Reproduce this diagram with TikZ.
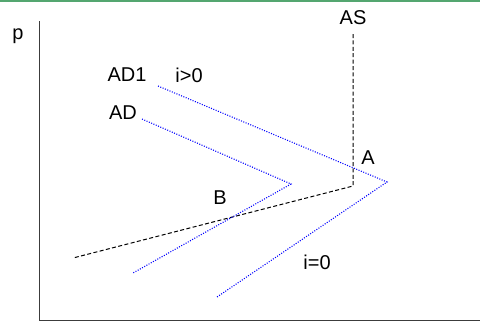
\documentclass[tikz,border=0pt]{standalone}
\usepackage{fontspec}
\setmainfont{Liberation Sans}
\usepackage{xcolor}
\usetikzlibrary{positioning,calc}

\definecolor{framegreen}{RGB}{84,166,112}
\definecolor{axisgray}{RGB}{60,60,60}

\begin{document}
\begin{tikzpicture}[
    x=0.5pt, y=-0.5pt,
    every node/.style={font=\fontsize{10}{12}\selectfont, inner sep=0pt},
    axisline/.style={line width=0.8pt, axisgray},
    supply/.style={line width=0.5pt, black, dash pattern=on 2pt off 1.2pt},
    demand/.style={line width=0.55pt, blue, dash pattern=on 0.5pt off 0.75pt},
    frameline/.style={line width=0.8pt, framegreen}
  ]
    \useasboundingbox (0,0) rectangle (480,322);

    % frame and axes
    \draw[frameline] (0,1) -- (480,1);
    \coordinate (top) at (39.5,21);
    \coordinate (origin) at (39.5,320.5);
    \coordinate (xend) at (480,320.5);
    \draw[axisline] (top) -- (origin) -- (xend);
    \node (p) at (18,36) {p};

    % aggregate supply
    \node (as) at (353,18) {AS};
    \coordinate (as-top) at (353,34);
    \coordinate (as-kink) at (353,186);
    \coordinate (as-low) at (73,258);
    \draw[supply] (as-top) -- (as-kink) -- (as-low);

    % aggregate demand, i=0
    \node (ad) at (123,113) {AD};
    \coordinate (ad-top) at (142,119);
    \coordinate (ad-kink) at (291,184);
    \coordinate (ad-low) at (133,273);
    \draw[demand] (ad-top) -- (ad-kink) -- (ad-low);

    % aggregate demand, i>0
    \node (ad1) at (127,75) {AD1};
    \node (ipos) at (189,75) {i>0};
    \coordinate (ad1-top) at (158,86);
    \coordinate (ad1-kink) at (387,182);
    \coordinate (ad1-low) at (217,297);
    \draw[demand] (ad1-top) -- (ad1-kink) -- (ad1-low);

    % equilibria
    \node (a) at (368,158) {A};
    \node (b) at (220,198) {B};
    \node (izero) at (317,262) {i=0};

  \end{tikzpicture}
\end{document}
